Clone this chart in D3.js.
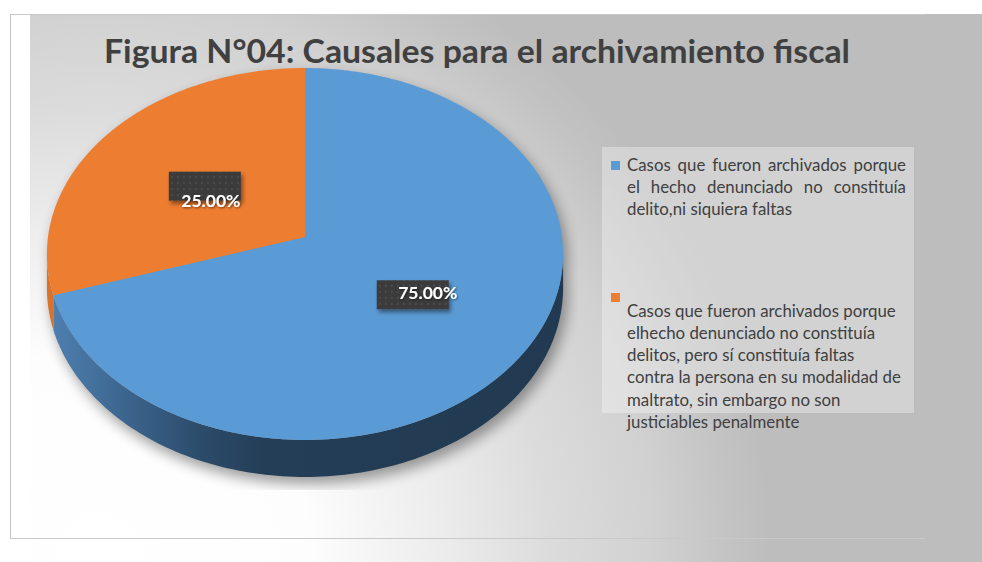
<!DOCTYPE html>
<html>
<head>
<meta charset="utf-8">
<script src="https://cdn.jsdelivr.net/npm/d3@7"></script>
<style>
  body { margin: 0; background: #ffffff; }
  svg { display: block; }
</style>
</head>
<body>
<script>
// data
var title = "Figura N°04: Causales para el archivamiento fiscal";
var values = [0.75, 0.25];
var colors = ["#5b9bd5", "#ed7d31"];
var legendLines = [
  ["Casos que fueron archivados porque", "el hecho denunciado no constituía", "delito,ni siquiera faltas"],
  ["Casos que fueron archivados porque", "elhecho denunciado no constituía", "delitos, pero sí constituía faltas",
   "contra la persona en su modalidad de", "maltrato, sin embargo no son", "justiciables penalmente"]
];
var legendJustify = [true, false];

var width = 982, height = 562;

// projection of the tilted disc (Excel 3-D pie look)
var view = { cx: 305, cy: 237, rx: 257, ry: 184.4, persp: 0.0914, depth: 33.6 };
// Excel's 3-D rotation bends the angles; first slice boundary lands here
var sweep = d3.scaleLinear().domain([0, 2 * Math.PI * values[0], 2 * Math.PI]).range([0, 4.40, 2 * Math.PI]);

function proj(theta, r, drop) {
  var u = r * Math.sin(theta), v = -r * Math.cos(theta);
  var k = 1 / (1 - view.persp * v);
  return [view.cx + view.rx * u * k, view.cy + (view.ry * v + (drop ? view.depth : 0)) * k];
}

function arcPoints(a0, a1, r, drop) {
  var n = Math.max(2, Math.ceil(Math.abs(a1 - a0) / 0.02));
  return d3.range(n + 1).map(function (i) { return proj(a0 + (a1 - a0) * i / n, r, drop); });
}

var line = d3.line();

var svg = d3.select("body").append("svg").attr("width", width).attr("height", height);
var defs = svg.append("defs");

var bg = defs.append("radialGradient").attr("id", "bg")
  .attr("gradientUnits", "userSpaceOnUse").attr("cx", 100).attr("cy", 560).attr("r", 700);
[[0, "#ffffff"], [0.3, "#fdfdfd"], [0.5, "#ebebeb"], [0.64, "#dcdcdc"], [0.79, "#d1d1d1"], [0.9, "#c3c3c3"], [0.96, "#bdbdbd"], [1, "#bdbdbd"]]
  .forEach(function (s) { bg.append("stop").attr("offset", s[0]).attr("stop-color", s[1]); });

var wallStops = [
  [[0, "#4f81b2"], [0.15, "#3c658e"], [0.3, "#2c4b6a"], [0.42, "#243e57"], [1, "#213a51"]],
  [[0, "#d8722c"], [1, "#b85e22"]]
];
wallStops.forEach(function (stops, i) {
  var g = defs.append("linearGradient").attr("id", "wall" + i)
    .attr("gradientUnits", "userSpaceOnUse")
    .attr("x1", view.cx - view.rx).attr("x2", view.cx + view.rx).attr("y1", 0).attr("y2", 0);
  stops.forEach(function (s) { g.append("stop").attr("offset", s[0]).attr("stop-color", s[1]); });
});

var pat = defs.append("pattern").attr("id", "dots").attr("patternUnits", "userSpaceOnUse")
  .attr("width", 6).attr("height", 6);
pat.append("rect").attr("width", 6).attr("height", 6).attr("fill", "#3a3a3a");
pat.append("circle").attr("cx", 3).attr("cy", 3).attr("r", 0.9).attr("fill", "#555555");

var blur = defs.append("filter").attr("id", "blur").attr("x", "-20%").attr("y", "-20%").attr("width", "140%").attr("height", "140%");
blur.append("feGaussianBlur").attr("stdDeviation", 7);

var drop = defs.append("filter").attr("id", "drop").attr("x", "-20%").attr("y", "-30%").attr("width", "150%").attr("height", "170%");
drop.append("feDropShadow").attr("dx", 2).attr("dy", 3).attr("stdDeviation", 2)
  .attr("flood-color", "#000").attr("flood-opacity", 0.45);

var txtShadow = defs.append("filter").attr("id", "tshadow");
txtShadow.append("feDropShadow").attr("dx", 1).attr("dy", 1).attr("stdDeviation", 0.8)
  .attr("flood-color", "#000").attr("flood-opacity", 0.5);

defs.append("clipPath").attr("id", "plotClip")
  .append("rect").attr("x", 30).attr("y", 14).attr("width", 548).attr("height", 476);

// background and frame
svg.append("rect").attr("x", 30).attr("y", 14).attr("width", width - 30).attr("height", height - 14).attr("fill", "url(#bg)");
svg.append("path").attr("d", "M925,14.5H10.5V538.5H925")
  .attr("fill", "none").attr("stroke", "#c9c9c9").attr("stroke-width", 1.2);

// title
svg.append("text").attr("x", 104).attr("y", 63)
  .attr("font-family", "Lato, 'Open Sans', sans-serif").attr("font-weight", "bold")
  .attr("font-size", 31.5).attr("fill", "#404040")
  .attr("textLength", 746).attr("lengthAdjust", "spacingAndGlyphs")
  .text(title);

// pie
var pie = d3.pie().sort(null).value(function (d) { return d; });
var arcs = pie(values).map(function (a, i) {
  return { a0: sweep(a.startAngle), a1: sweep(a.endAngle), mid: sweep((a.startAngle + a.endAngle) / 2), value: a.value, i: i };
});

var sil = Math.acos(-view.persp); // silhouette angle of the side wall
var full = arcPoints(0, 2 * Math.PI, 1, false);
var fullBottom = arcPoints(0, 2 * Math.PI, 1, true);

var shadow = svg.append("g").attr("clip-path", "url(#plotClip)")
  .append("g").attr("filter", "url(#blur)").attr("opacity", 0.38)
  .attr("transform", "translate(4,7)");
shadow.append("path").attr("d", line(full) + "Z").attr("fill", "#000");
shadow.append("path").attr("d", line(fullBottom) + "Z").attr("fill", "#000");
shadow.append("path")
  .attr("d", line(arcPoints(sil - 0.1, 2 * Math.PI - sil + 0.1, 1, false).concat(arcPoints(2 * Math.PI - sil + 0.1, sil - 0.1, 1, true))) + "Z")
  .attr("fill", "#000");

var pieG = svg.append("g");

pieG.selectAll("path.wall").data(arcs.filter(function (d) {
  return d.a1 > sil && d.a0 < 2 * Math.PI - sil;
})).enter().append("path").attr("class", "wall")
  .attr("d", function (d) {
    var s = Math.max(d.a0, sil), e = Math.min(d.a1, 2 * Math.PI - sil);
    return line(arcPoints(s, e, 1, false).concat(arcPoints(e, s, 1, true))) + "Z";
  })
  .attr("fill", function (d) { return "url(#wall" + d.i + ")"; });

pieG.selectAll("path.top").data(arcs).enter().append("path").attr("class", "top")
  .attr("d", function (d) { return line([proj(0, 0, false)].concat(arcPoints(d.a0, d.a1, 1, false))) + "Z"; })
  .attr("fill", function (d) { return colors[d.i]; });

// data labels
var fmt = d3.format(".2%");
var labelBox = { w: 72, h: 29 };
var textNudge = [[15, 4], [6, 21]];
var lab = svg.selectAll("g.lab").data(arcs).enter().append("g").attr("class", "lab")
  .attr("transform", function (d) {
    var p = proj(d.mid, 0.5, false);
    return "translate(" + (p[0] + 1) + "," + (p[1] + 2) + ")";
  });
lab.append("rect").attr("x", -labelBox.w / 2).attr("y", -labelBox.h / 2)
  .attr("width", labelBox.w).attr("height", labelBox.h)
  .attr("fill", "url(#dots)").attr("filter", "url(#drop)");
lab.append("text")
  .attr("x", function (d) { return textNudge[d.i][0]; })
  .attr("y", function (d) { return textNudge[d.i][1]; })
  .attr("text-anchor", "middle")
  .attr("font-family", "Lato, 'Open Sans', sans-serif").attr("font-weight", "bold")
  .attr("font-size", 17.5).attr("fill", "#ffffff").attr("filter", "url(#tshadow)")
  .text(function (d) { return fmt(d.value); });

// legend
var legendBox = { x: 602, y: 147, w: 312, h: 266 };
svg.append("rect").attr("x", legendBox.x).attr("y", legendBox.y)
  .attr("width", legendBox.w).attr("height", legendBox.h)
  .attr("fill", "#ffffff").attr("opacity", 0.32);

var textX = 627, textRight = 906, lineH = 22.3;
var markerTop = [161, 293];
var firstBase = [170.5, 316.5];
var legendFont = "Lato, 'Open Sans', sans-serif";

// fit font size so the long line keeps its width
var probe = svg.append("text").attr("font-family", legendFont).attr("font-size", 16).text(legendLines[1][0]);
var legendSize = 16 * 269 / probe.node().getComputedTextLength();
probe.remove();

legendLines.forEach(function (lines, i) {
  svg.append("rect").attr("x", 611).attr("y", markerTop[i]).attr("width", 9).attr("height", 9).attr("fill", colors[i]);
  lines.forEach(function (ln, j) {
    var y = firstBase[i] + j * lineH;
    var t = svg.append("text").attr("y", y).attr("font-family", legendFont)
      .attr("font-size", legendSize).attr("fill", "#404040");
    if (legendJustify[i] && j < lines.length - 1) {
      var words = ln.split(" ");
      var widths = words.map(function (w) {
        var tmp = svg.append("text").attr("font-family", legendFont).attr("font-size", legendSize).text(w);
        var wd = tmp.node().getComputedTextLength();
        tmp.remove();
        return wd;
      });
      var gap = (textRight - textX - d3.sum(widths)) / (words.length - 1);
      var x = textX;
      words.forEach(function (w, k) {
        t.append("tspan").attr("x", x).attr("y", y).text(w);
        x += widths[k] + gap;
      });
    } else {
      t.attr("x", textX).text(ln);
    }
  });
});
</script>
</body>
</html>
